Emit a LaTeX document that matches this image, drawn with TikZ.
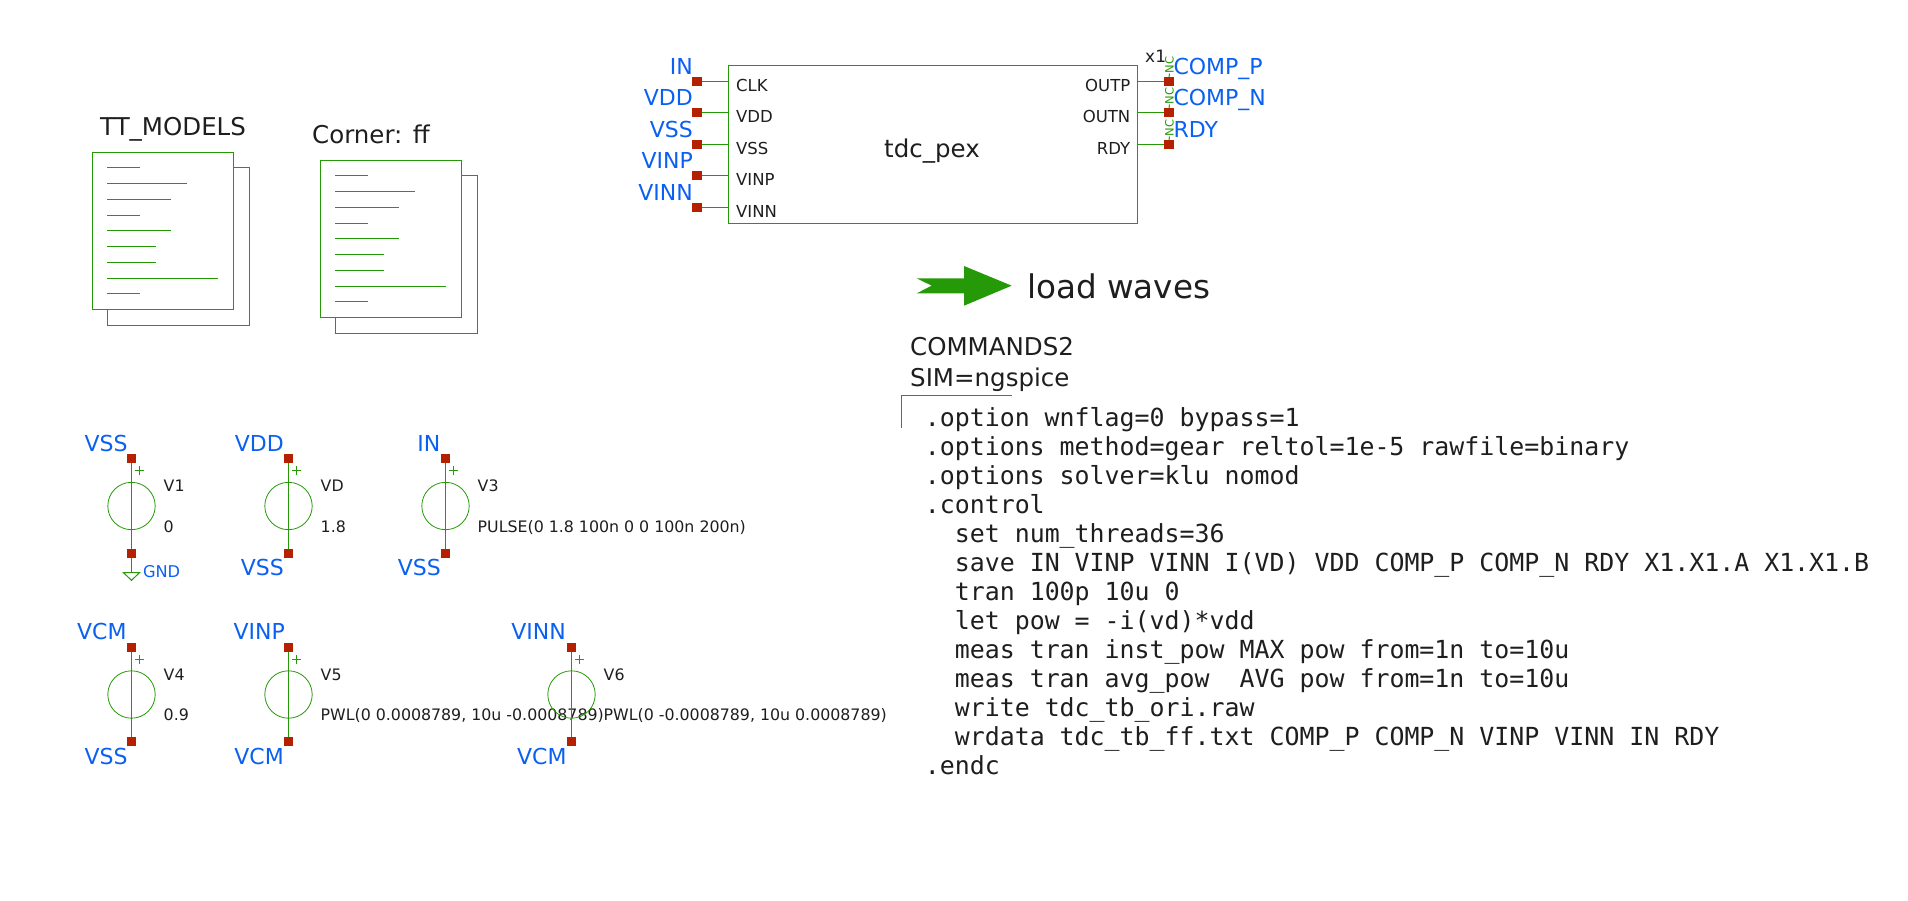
\documentclass[tikz,border=0pt]{standalone}
\usepackage{fontspec}
\setmainfont{DejaVu Sans}
\setmonofont{DejaVu Sans Mono}
\definecolor{SchGreen}{HTML}{269908}
\definecolor{SchRed}{HTML}{B52000}
\definecolor{SchBlue}{HTML}{0A60F0}
\definecolor{SchText}{HTML}{1E1E1E}
\newcommand{\fsize}[1]{\fontsize{#1}{#1}\selectfont}
\tikzset{
  wire/.style={draw=SchGreen,line width=1.2pt},
  thinwire/.style={draw=SchGreen,line width=1pt},
  port/.style={fill=SchRed,draw=none,minimum size=9.2pt,inner sep=0pt,outer sep=0pt,rectangle},
  netlabel/.style={text=SchBlue,inner sep=0pt,font=\fsize{22}},
  pintext/.style={text=SchText,inner sep=0pt,font=\fsize{16.5}},
  smalltext/.style={text=SchText,inner sep=0pt,font=\fsize{15.8}},
  bigtext/.style={text=SchText,inner sep=0pt,font=\fsize{24.5}},
  nctext/.style={text=SchGreen,inner sep=0pt,font=\fsize{11.5},rotate=90,anchor=west,outer sep=0pt},
  srccircle/.style={circle,draw=SchGreen,line width=0.8pt,minimum size=47.4pt,inner sep=0pt,outer sep=0pt},
}
\begin{document}
\begin{tikzpicture}[x=1pt,y=-1pt]

\useasboundingbox (0,0) rectangle (1908,901);

%Model sheets
\foreach \name/\xx/\yy in {ttdoc/0/0,cornerdoc/228/8}{
  \begin{scope}[shift={(\xx,\yy)}]
    \draw[wire] (233.5,167.5) -- (249.5,167.5) -- (249.5,325.5) -- (107.5,325.5) -- (107.5,309.5);
    \node[draw=SchGreen,line width=1.2pt,minimum width=141pt,minimum height=157pt,inner sep=0pt,outer sep=0pt] (\name) at (163,231) {};
    \foreach \ly/\lx in {167.5/140,183.5/186.7,199.5/170.7,215.5/140,230.5/170.7,246.5/156,262.5/156,278.5/217.7,293.5/140}{
      \draw[thinwire] (107,\ly) -- (\lx,\ly);
    }
  \end{scope}
}
\node[bigtext,anchor=base west] (ttname) at (100,136) {TT\_MODELS};
\node[bigtext,anchor=base west] (cornername) at (312,144) {Corner: ff};

%Symbol tdc_pex
\node[draw=SchGreen,line width=1.2pt,minimum width=409pt,minimum height=158pt,inner sep=0pt,outer sep=0pt] (tdc) at (933,144.5) {};
\node[bigtext,anchor=base] (tdcname) at (932,158) {tdc\_pex};
\node[text=SchText,inner sep=0pt,font=\fsize{17},anchor=base west] (tdcinst) at (1145,63) {x1};

%Left pins
\foreach \name/\yy/\pin/\net in {clk/81.5/CLK/IN,vdd/112.5/VDD/VDD,vss/144.5/VSS/VSS,vinp/175.5/VINP/VINP,vinn/207.5/VINN/VINN}{
  \node[port] (port\name) at (697,\yy) {};
  \draw[wire] (port\name) -- (port\name -| tdc.west);
  \node[pintext,anchor=base west] (pin\name) at (736,\yy+10.5) {\pin};
  \node[netlabel,anchor=base east] (net\name) at (693,\yy-6.5) {\net};
}

%Right pins
\foreach \name/\yy/\pin/\net in {outp/81.5/OUTP/COMP\_P,outn/112.5/OUTN/COMP\_N,rdy/144.5/RDY/RDY}{
  \node[port] (port\name) at (1169,\yy) {};
  \draw[wire] (port\name) -- (port\name -| tdc.east);
  \node[pintext,anchor=base east] (pin\name) at (1130.5,\yy+10.5) {\pin};
  \node[netlabel,anchor=base west] (net\name) at (1173.3,\yy-7.2) {\net};
  \node[nctext] (nc\name) at (1169.3,\yy-8) {NC};
  \draw[thinwire] (nc\name.west) -- (port\name);
}

%Load waves arrow
\fill[SchGreen] (916.7,278.3) -- (964,278.3) -- (964,266) -- (1011.7,285.7) -- (964,305.7) -- (964,293.3) -- (916.7,293.3) -- (931.7,285.7) -- cycle;
\node[text=SchText,inner sep=0pt,font=\fsize{32.6},anchor=base west] (loadwaves) at (1027,298.3) {load waves};

%Commands
\node[bigtext,anchor=base west] (cmdname) at (910,355.7) {COMMANDS2};
\node[bigtext,anchor=base west] (cmdsim) at (910,386.7) {SIM=ngspice};
\draw[thinwire] (901.5,427.7) -- (901.5,395.5) -- (1011.7,395.5);
\newcommand{\ind}{\hspace*{30pt}}
\node[text=SchText,inner sep=0pt,anchor=north west,align=left,font=\ttfamily\fontsize{24.9}{29}\selectfont] (cmdcode) at (924.6,407.2) {%
.option wnflag=0 bypass=1\\
.options method=gear reltol=1e-5 rawfile=binary\\
.options solver=klu nomod\\
.control\\
\ind set num\_threads=36\\
\ind save IN VINP VINN I(VD) VDD COMP\_P COMP\_N RDY X1.X1.A X1.X1.B\\
\ind tran 100p 10u 0\\
\ind let pow = -i(vd)*vdd\\
\ind meas tran inst\_pow MAX pow from=1n to=10u\\
\ind meas tran avg\_pow~~AVG pow from=1n to=10u\\
\ind write tdc\_tb\_ori.raw\\
\ind wrdata tdc\_tb\_ff.txt COMP\_P COMP\_N VINP VINN IN RDY\\
.endc};

%Voltage sources
\foreach \name/\xx/\yy/\len/\inst/\val in {vone/131.5/458.5/95/V1/0,vd/288.5/458.5/95/VD/1.8,vthree/445.5/458.5/95/V3/{PULSE(0 1.8 100n 0 0 100n 200n)},vfour/131.5/647.5/94/V4/0.9,vfive/288.5/647.5/94/V5/{PWL(0 0.0008789, 10u -0.0008789)},vsix/571.5/647.5/94/V6/{PWL(0 -0.0008789, 10u 0.0008789)}}{
  \begin{scope}[shift={(\xx,\yy)}]
    \node[port] (\name top) at (0,0) {};
    \node[port] (\name bot) at (0,\len) {};
    \node[srccircle] (\name src) at (0,\len/2) {};
    \draw[wire] (\name top) -- (\name bot);
    \draw[thinwire] (3.7,12.4) -- (12.7,12.4);
    \draw[thinwire] (8.2,7.9) -- (8.2,16.9);
    \node[smalltext,anchor=base west] (\name inst) at (32,33.4) {\inst};
    \node[smalltext,anchor=base west] (\name val) at (32,\len-21.5) {\val};
  \end{scope}
}

%Net names of the sources
\node[netlabel,anchor=base east] (lvone) at (127.7,451.7) {VSS};
\node[netlabel,anchor=base east] (lvd) at (284,451.7) {VDD};
\node[netlabel,anchor=base east] (lvthree) at (440.5,451.7) {IN};
\node[netlabel,anchor=base east] (lvdb) at (284,575.7) {VSS};
\node[netlabel,anchor=base east] (lvthreeb) at (441,575.7) {VSS};
\node[netlabel,anchor=base east] (lvfour) at (126.7,639.3) {VCM};
\node[netlabel,anchor=base east] (lvfive) at (285,639.3) {VINP};
\node[netlabel,anchor=base east] (lvsix) at (566,639.3) {VINN};
\node[netlabel,anchor=base east] (lvfourb) at (127.7,764.3) {VSS};
\node[netlabel,anchor=base east] (lvfiveb) at (284,764.3) {VCM};
\node[netlabel,anchor=base east] (lvsixb) at (566.7,764.3) {VCM};

%GND
\coordinate (gndtop) at (131.5,572.7);
\draw[wire] (vonebot) -- (gndtop);
\draw[thinwire] (123.5,572.7) -- (139.5,572.7) -- (131.5,580.3) -- cycle;
\node[text=SchBlue,inner sep=0pt,font=\fsize{16.2},anchor=base west] (gndname) at (142.8,577.3) {GND};

\end{tikzpicture}
\end{document}
